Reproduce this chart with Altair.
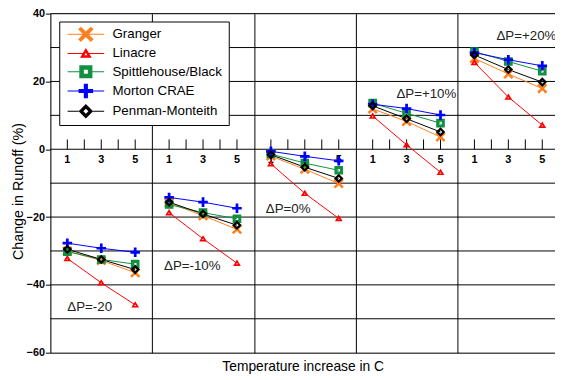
import altair as alt
import pandas as pd
import numpy as np

# ---------------- data ----------------
methods = ["Granger", "Linacre", "Spittlehouse/Black", "Morton CRAE", "Penman-Monteith"]
colors = ["#FF7F1E", "#FF0000", "#109040", "#0000FF", "#000000"]
temps = [1, 3, 5]
panel_labels = ["ΔP=-20", "ΔP=-10%", "ΔP=0%", "ΔP=+10%", "ΔP=+20%"]
# values per method: panels (ΔP -20..+20) x temps (1,3,5)
granger = [-30.0, -32.8, -36.4, -15.8, -19.6, -23.6, -2.0, -5.9, -10.1, 11.9, 8.2, 3.6, 26.8, 22.2, 17.9]
linacre = [-32.2, -39.4, -45.9, -18.7, -26.4, -33.6, -4.3, -13.0, -20.4, 9.8, 1.3, -6.8, 25.6, 15.4, 7.1]
spittle = [-30.2, -32.5, -33.9, -16.3, -18.7, -20.5, -1.4, -4.1, -6.2, 13.6, 10.6, 7.7, 28.8, 25.9, 23.0]
morton = [-27.7, -29.2, -30.4, -14.2, -15.6, -17.4, -0.6, -2.1, -3.4, 13.3, 12.0, 10.1, 28.5, 26.4, 24.6]
penman = [-29.5, -32.5, -35.5, -15.6, -19.1, -22.4, -1.6, -5.3, -8.6, 12.8, 9.0, 5.1, 27.8, 23.5, 19.8]
series = [granger, linacre, spittle, morton, penman]
# annotation anchors (x in temperature units across panels, y in %)
ann_x = [1.0, 6.7, 12.7, 20.4, 26.3]
ann_y = [-46.4, -34.5, -17.7, 16.2, 33.3]
y_labels = [-60, -40, -20, 0, 20, 40]
grid_y = [-50, -40, -30, -20, -10, 0, 10, 20, 30, 40]
panel_width = 6

rows = []
for m, vals in zip(methods, series):
    for p in range(5):
        for j, t in enumerate(temps):
            rows.append({"method": m, "panel": p, "x": p * panel_width + t, "value": vals[p * 3 + j]})
df = pd.DataFrame(rows)

ticks_df = pd.DataFrame([{"x": p * panel_width + k, "y0": 0, "y1": 2.9}
                         for p in range(5) for k in range(1, 6)])
tl_df = pd.DataFrame([{"x": p * panel_width + t, "y0": 0, "lab": str(t)}
                      for p in range(5) for t in temps])
grid_df = pd.DataFrame({"g": grid_y})
ann_df = pd.DataFrame({"x": ann_x, "y": ann_y, "text": panel_labels})

# ---------------- marker paths ----------------
def oriented(pts, positive=True):
    pts = np.asarray(pts, float)
    x, y = pts[:, 0], pts[:, 1]
    a = 0.5 * np.sum(x * np.roll(y, -1) - np.roll(x, -1) * y)
    if (a > 0) != positive:
        pts = pts[::-1]
    return pts

def sub(pts, positive=True):
    pts = oriented(pts, positive)
    return "M" + "L".join(f"{px:.3f},{py:.3f}" for px, py in pts) + "Z"

def plus_pts(L, a):
    return [(-a, -L), (a, -L), (a, -a), (L, -a), (L, a), (a, a), (a, L), (-a, L),
            (-a, a), (-L, a), (-L, -a), (-a, -a)]

def rot45(pts):
    c = np.cos(np.pi / 4)
    return [((px - py) * c, (px + py) * c) for px, py in pts]

def scaled(pts, s, cx=0.0, cy=0.0):
    return [(cx + (px - cx) * s, cy + (py - cy) * s) for px, py in pts]

tri = [(0, -0.8), (0.85, 0.6), (-0.85, 0.6)]
sq = [(-0.95, -0.95), (0.95, -0.95), (0.95, 0.95), (-0.95, 0.95)]
dia = [(0, -1.05), (1.05, 0), (0, 1.05), (-1.05, 0)]

shapes = [
    (sub(rot45(plus_pts(1.3, 0.28))), 0.0),
    (sub(tri) + sub(scaled(tri, 0.25, 0, 0.133), False), 0.46),
    (sub(sq) + sub(scaled(sq, 0.3), False), 0.95),
    (sub(plus_pts(1.05, 0.3)), 0.0),
    (sub(dia) + sub(scaled(dia, 0.35), False), 1.05),
]

def line_part(r, L=2.65, h=0.075):
    if r == 0:
        return sub([(-L, -h), (L, -h), (L, h), (-L, h)])
    return (sub([(-L, -h), (-r, -h), (-r, h), (-L, h)]) +
            sub([(r, -h), (L, -h), (L, h), (r, h)]))

marker_paths = [s for s, r in shapes]
legend_paths = [line_part(r) + s for s, r in shapes]

# ---------------- scales / encodings ----------------
FONT = "Liberation Sans"
xs = alt.Scale(domain=[0, 29.75], nice=False, zero=False)
ys = alt.Scale(domain=[-60, 40], nice=False, zero=False)

x_axis = alt.Axis(values=[6, 12, 18, 24], grid=True, gridColor="#000000", gridOpacity=1,
                  gridWidth=1, labels=False, ticks=False, domain=True, domainColor="#000000",
                  domainWidth=1, title="Temperature increase in C", titleFont=FONT,
                  titleFontSize=14, titleFontWeight="normal", titleColor="#000000",
                  titlePadding=7)
y_axis = alt.Axis(values=y_labels, grid=False, tickSize=5, tickColor="#000000",
                  domainColor="#000000", labelFont=FONT, labelFontSize=11,
                  labelFontWeight="bold", labelColor="#000000", labelPadding=1,
                  title="Change in Runoff (%)", titleFont=FONT, titleFontSize=14.5,
                  titleFontWeight="normal", titleColor="#000000", titlePadding=1,
                  titleY=180)

def X(f):
    return alt.X(f, type="quantitative", scale=xs, axis=x_axis)

def Y(f):
    return alt.Y(f, type="quantitative", scale=ys, axis=y_axis)

def color_scale():
    return alt.Scale(domain=methods, range=colors)

hgrid = alt.Chart(grid_df).mark_rule(color="#000000", strokeWidth=1).encode(y=Y("g"))

ticks = alt.Chart(ticks_df).mark_rule(color="#000000", strokeWidth=1).encode(
    x=X("x"), y=Y("y0"), y2="y1:Q")

tick_labels = alt.Chart(tl_df).mark_text(
    font=FONT, fontSize=11, fontWeight="bold", color="#000000", dy=10.5, baseline="middle"
).encode(x=X("x"), y=Y("y0"), text="lab:N")

lines = alt.Chart(df).mark_line(strokeWidth=1).encode(
    x=X("x"), y=Y("value"),
    color=alt.Color("method:N", scale=color_scale(), legend=None),
    detail="panel:N")

points = alt.Chart(df).mark_point(filled=True, size=85, opacity=1, strokeWidth=0).encode(
    x=X("x"), y=Y("value"),
    color=alt.Color("method:N", scale=color_scale(), legend=None),
    shape=alt.Shape("method:N", scale=alt.Scale(domain=methods, range=marker_paths), legend=None))

annotations = alt.Chart(ann_df).mark_text(
    font=FONT, fontSize=13.5, align="left", baseline="middle", color="#222222"
).encode(x=X("x"), y=Y("y"), text="text:N")

leg = alt.Legend(title=None, orient="none", legendX=9, legendY=8, padding=6,
                 strokeColor="#000000", fillColor="#FFFFFF", cornerRadius=0,
                 symbolSize=196, symbolStrokeWidth=0, symbolOffset=14, labelOffset=20,
                 rowPadding=4.5, labelFont=FONT, labelFontSize=13.5, labelColor="#000000",
                 labelLimit=300)

carrier = alt.Chart(df).transform_filter("false").mark_point(
    filled=True, size=196, opacity=1, strokeWidth=0
).encode(
    x=X("x"), y=Y("value"),
    color=alt.Color("method:N", scale=color_scale(), legend=leg),
    shape=alt.Shape("method:N", scale=alt.Scale(domain=methods, range=legend_paths), legend=leg))

chart = alt.layer(hgrid, ticks, tick_labels, lines, points, annotations, carrier).resolve_scale(
    shape="independent", color="independent"
).properties(
    width=512, height=344,
    autosize=alt.AutoSizeParams(type="none"),
    padding={"left": 43, "top": 3, "right": 0, "bottom": 25},
).configure_view(stroke=None).configure(font=FONT, background="#FFFFFF")

chart.save("out.html", embed_options={"renderer": "svg", "actions": False})
